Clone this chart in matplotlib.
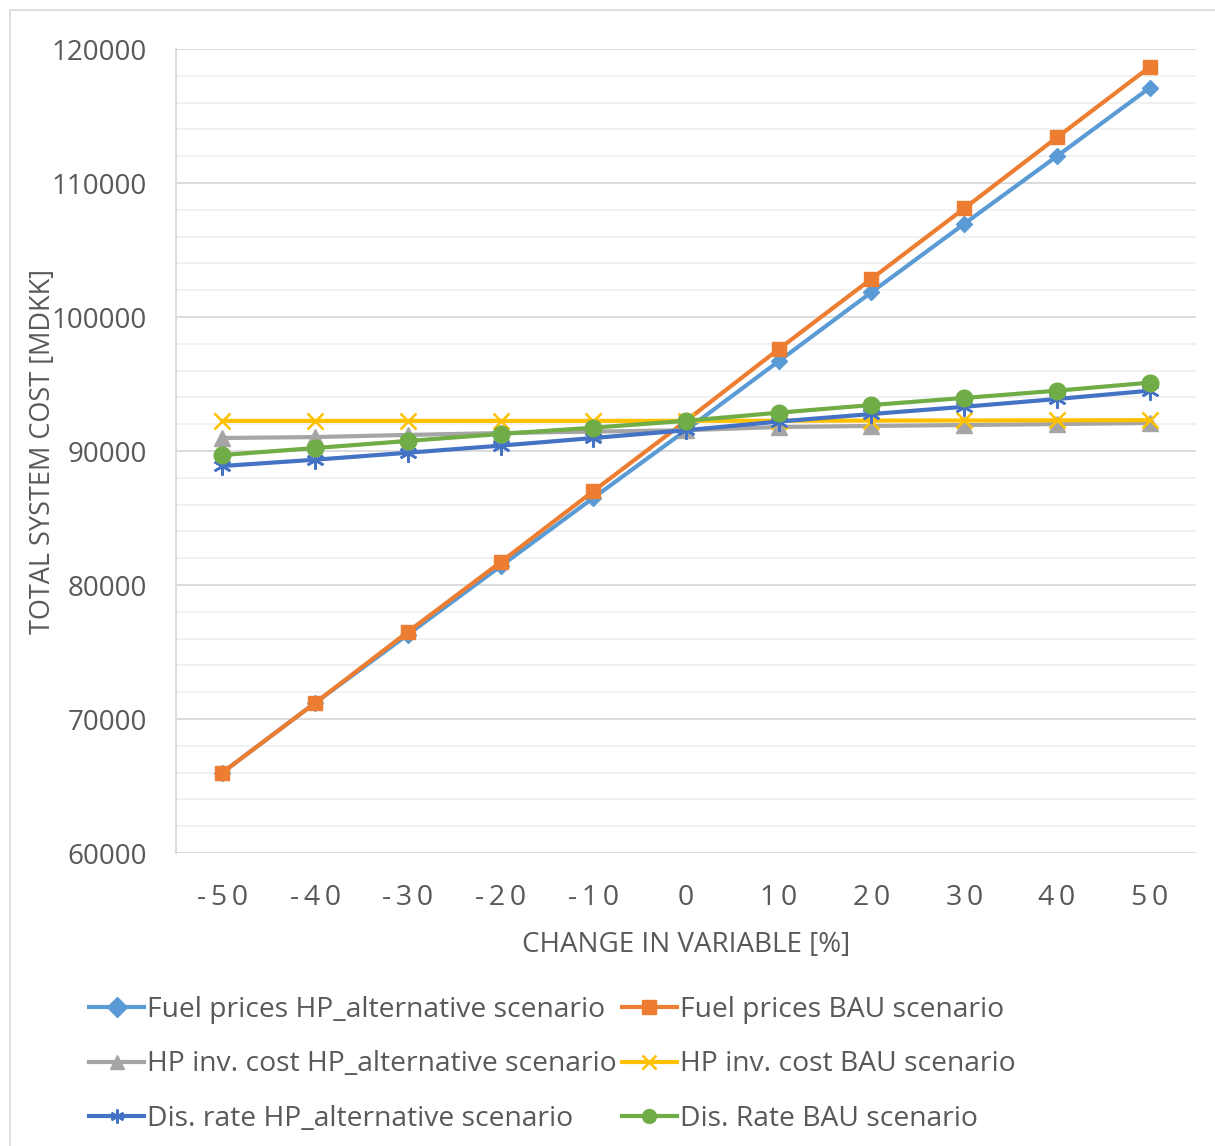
import matplotlib
matplotlib.use("Agg")
import matplotlib.pyplot as plt
from matplotlib.patches import Rectangle
from matplotlib.ticker import MultipleLocator

change = [-50, -40, -30, -20, -10, 0, 10, 20, 30, 40, 50]
fuel_alt = [66000, 71200, 76300, 81400, 86500, 91550, 96700, 101850, 106950, 112000, 117100]
fuel_bau = [66000, 71200, 76500, 81700, 87000, 92250, 97600, 102850, 108100, 113400, 118650]
hpinv_alt = [90970, 91040, 91200, 91340, 91450, 91550, 91790, 91870, 91940, 92010, 92090]
hpinv_bau = [92250, 92250, 92250, 92250, 92250, 92250, 92260, 92270, 92280, 92290, 92300]
disr_alt = [88880, 89350, 89870, 90400, 90970, 91550, 92200, 92760, 93300, 93880, 94500]
disr_bau = [89700, 90220, 90750, 91270, 91740, 92250, 92860, 93430, 93960, 94500, 95100]

labels = ["Fuel prices HP_alternative scenario", "Fuel prices BAU scenario",
          "HP inv. cost HP_alternative scenario", "HP inv. cost BAU scenario",
          "Dis. rate HP_alternative scenario", "Dis. Rate BAU scenario"]

plt.rcParams['font.family'] = ['Open Sans', 'DejaVu Sans']
txt = '#595959'

fig = plt.figure(figsize=(12.15, 11.46), dpi=100)
fig.patches.append(Rectangle((10/1215, -0.01), 1.0, 1 - 10/1146 + 0.01, transform=fig.transFigure,
                             fill=False, edgecolor='#d9d9d9', lw=1.2))
ax = fig.add_axes([176/1215, 1 - 853/1146, (1196-176)/1215, (853-49)/1146])

x = list(range(len(change)))
series = [
    (fuel_alt, '#5b9bd5', 'D', 8),
    (fuel_bau, '#ed7d31', 's', 10),
    (hpinv_alt, '#a5a5a5', '^', 11),
    (hpinv_bau, '#ffc000', 'x', 12),
    (disr_alt, '#4472c4', (6, 2, 0), 13),
    (disr_bau, '#70ad47', 'o', 12),
]
handles = []
for (vals, col, mk, ms), lab in zip(series, labels):
    kw = {}
    if mk in ('x', (6, 2, 0)):
        kw = dict(markeredgewidth=1.8)
    h, = ax.plot(x, vals, color=col, lw=3, marker=mk, markersize=ms, label=lab,
                 markerfacecolor=col, markeredgecolor=col, **kw)
    handles.append(h)

ax.set_xlim(-0.5, 10.5)
ax.set_ylim(60000, 120000)
ax.yaxis.set_major_locator(MultipleLocator(10000))
ax.yaxis.set_minor_locator(MultipleLocator(2000))
ax.set_xticks(x)
ax.set_xticklabels(["\u2009".join(str(c)) for c in change])
ax.grid(True, which='major', axis='y', color='#d9d9d9', lw=1.3)
ax.grid(True, which='minor', axis='y', color='#f0f0f0', lw=1.3)
ax.set_axisbelow(True)
for s in ['top', 'right', 'bottom']:
    ax.spines[s].set_visible(False)
ax.spines['left'].set_color('#d9d9d9')
ax.spines['left'].set_linewidth(1.3)
ax.tick_params(axis='x', which='both', length=0, labelsize=20.5, colors=txt, pad=22)
ax.tick_params(axis='y', which='both', length=0, labelsize=20, colors=txt, pad=21)
ax.set_xlabel("CHANGE IN VARIABLE [%]", fontsize=20, color=txt, labelpad=14)
ax.set_ylabel("TOTAL SYSTEM COST [MDKK]", fontsize=19.5, color=txt, labelpad=-4)

order = [0, 2, 4, 1, 3, 5]
leg = fig.legend(handles=[handles[i] for i in order], labels=[labels[i] for i in order],
                 loc='upper left', ncol=2,
                 bbox_to_anchor=(78/1215, 1 - 985/1146), frameon=False, fontsize=20.3,
                 labelcolor=txt, handlelength=1.95, handletextpad=0.1, columnspacing=0.18,
                 labelspacing=0.93, borderaxespad=0)
for lh in leg.legend_handles:
    lh.set_markersize(10)

fig.savefig("out.png", dpi=100)
